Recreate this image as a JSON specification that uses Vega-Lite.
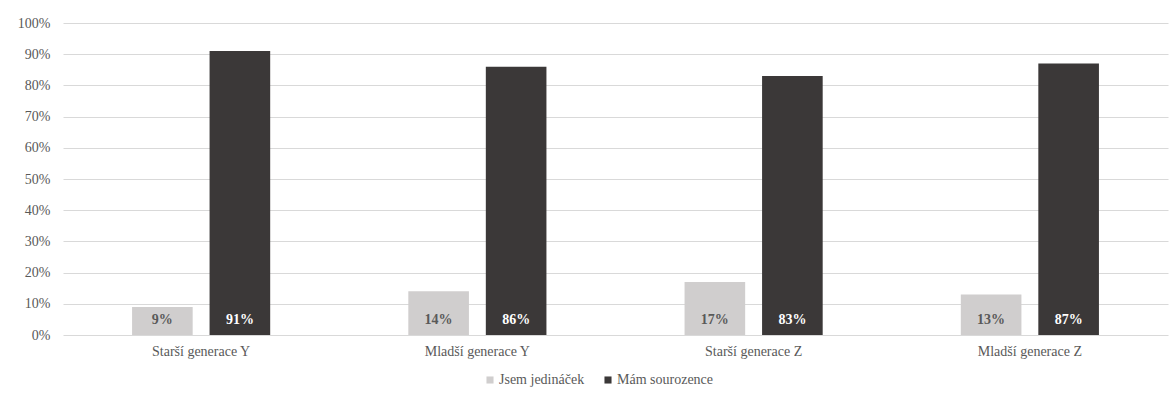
{
  "$schema": "https://vega.github.io/schema/vega-lite/v6.json",
  "width": 1105,
  "height": 312,
  "autosize": {"type": "none"},
  "padding": {"left": 63, "top": 23, "right": 3, "bottom": 61},
  "background": "white",
  "config": {
    "view": {"stroke": null},
    "font": "Liberation Serif",
    "axis": {"labelFont": "Liberation Serif", "labelColor": "#595959", "labelFontSize": 14}
  },
  "data": {
    "values": [
      {"skupina": "Starší generace Y", "odpoved": "Jsem jedináček", "podil": 0.09},
      {"skupina": "Starší generace Y", "odpoved": "Mám sourozence", "podil": 0.91},
      {"skupina": "Mladší generace Y", "odpoved": "Jsem jedináček", "podil": 0.14},
      {"skupina": "Mladší generace Y", "odpoved": "Mám sourozence", "podil": 0.86},
      {"skupina": "Starší generace Z", "odpoved": "Jsem jedináček", "podil": 0.17},
      {"skupina": "Starší generace Z", "odpoved": "Mám sourozence", "podil": 0.83},
      {"skupina": "Mladší generace Z", "odpoved": "Jsem jedináček", "podil": 0.13},
      {"skupina": "Mladší generace Z", "odpoved": "Mám sourozence", "podil": 0.87}
    ]
  },
  "encoding": {
    "x": {
      "field": "skupina",
      "type": "nominal",
      "sort": null,
      "title": null,
      "scale": {"paddingInner": 0.5, "paddingOuter": 0.25},
      "axis": {"labelAngle": 0, "ticks": false, "domain": false, "labelPadding": 9}
    },
    "xOffset": {
      "field": "odpoved",
      "type": "nominal",
      "sort": ["Jsem jedináček", "Mám sourozence"],
      "scale": {"paddingInner": 0.218, "paddingOuter": 0}
    }
  },
  "layer": [
    {
      "mark": {"type": "bar"},
      "encoding": {
        "y": {
          "field": "podil",
          "type": "quantitative",
          "title": null,
          "scale": {"domain": [0, 1], "nice": false},
          "axis": {
            "format": ".0%",
            "tickCount": 10,
            "grid": true,
            "labelOverlap": false,
            "ticks": false,
            "domain": false,
            "labelPadding": 13,
            "gridColor": "#d9d9d9",
            "gridWidth": 1
          }
        },
        "color": {
          "field": "odpoved",
          "type": "nominal",
          "sort": ["Jsem jedináček", "Mám sourozence"],
          "scale": {"domain": ["Jsem jedináček", "Mám sourozence"], "range": ["#d0cece", "#3b3838"]},
          "legend": {
            "title": null,
            "orient": "none",
            "direction": "horizontal",
            "legendX": 420,
            "legendY": 350,
            "symbolType": "square",
            "symbolSize": 50,
            "symbolStrokeWidth": 0,
            "labelFont": "Liberation Serif",
            "labelFontSize": 14,
            "labelColor": "#595959",
            "labelOffset": 2,
            "columnPadding": 16
          }
        }
      }
    },
    {
      "mark": {"type": "text", "fontWeight": "bold", "fontSize": 14, "baseline": "middle", "dy": -15},
      "encoding": {
        "y": {"datum": 0},
        "text": {"field": "podil", "type": "quantitative", "format": ".0%"},
        "color": {
          "condition": {"test": "datum.odpoved === 'Mám sourozence'", "value": "#ffffff"},
          "value": "#595959"
        }
      }
    }
  ]
}
